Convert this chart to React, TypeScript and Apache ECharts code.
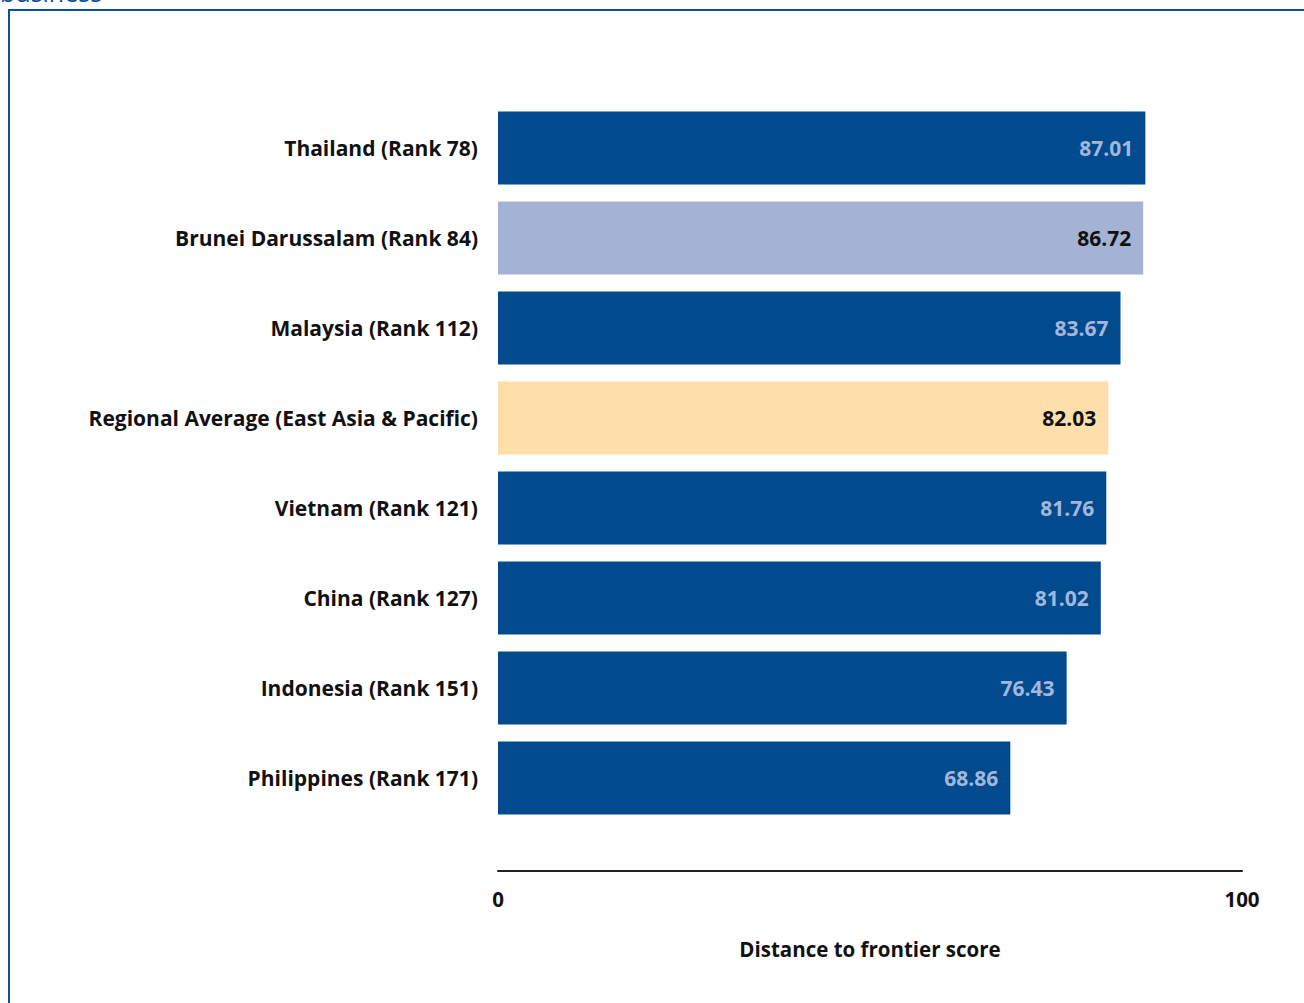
import React, { useEffect, useRef } from "react";
import * as echarts from "echarts";

const categories = [
  "Thailand (Rank 78)",
  "Brunei Darussalam (Rank 84)",
  "Malaysia (Rank 112)",
  "Regional Average (East Asia & Pacific)",
  "Vietnam (Rank 121)",
  "China (Rank 127)",
  "Indonesia (Rank 151)",
  "Philippines (Rank 171)",
];
const values = [87.01, 86.72, 83.67, 82.03, 81.76, 81.02, 76.43, 68.86];
const barColors = ["#004a8d", "#a4b2d4", "#004a8d", "#fedfa9", "#004a8d", "#004a8d", "#004a8d", "#004a8d"];
const labelColors = ["#a3b7dd", "#111111", "#a3b7dd", "#111111", "#a3b7dd", "#a3b7dd", "#a3b7dd", "#a3b7dd"];

export default function App() {
  const ref = useRef<HTMLDivElement>(null);
  useEffect(() => {
    document.body.style.margin = "0";
    const chart = echarts.init(ref.current!, null, { renderer: "svg" });
    const font = "'Open Sans', 'Noto Sans', sans-serif";
    chart.setOption({
      animation: false,
      backgroundColor: "#ffffff",
      graphic: [
        {
          type: "rect",
          shape: { x: 9, y: 10, width: 1400, height: 1100 },
          style: { fill: "none", stroke: "#0d4f9a", lineWidth: 2 },
        },
        {
          type: "text",
          x: 0,
          y: 4,
          style: {
            text: "business",
            fill: "#0d4f9a",
            font: "25px " + font,
            textVerticalAlign: "bottom",
          },
        },
      ],
      grid: { left: 498, right: 62, top: 103, bottom: 180, containLabel: false },
      xAxis: {
        type: "value",
        min: 0,
        max: 100,
        interval: 100,
        offset: 48,
        axisLine: { show: true, lineStyle: { color: "#222222", width: 2 } },
        axisTick: { show: false },
        splitLine: { show: false },
        axisLabel: { color: "#111", fontFamily: font, fontWeight: "bold", fontSize: 20.5, margin: 17 },
        name: "Distance to frontier score",
        nameLocation: "middle",
        nameGap: 67,
        nameTextStyle: { color: "#111", fontFamily: font, fontWeight: "bold", fontSize: 20.5 },
      },
      yAxis: {
        type: "category",
        inverse: true,
        data: categories,
        axisLine: { show: false },
        axisTick: { show: false },
        axisLabel: { color: "#111", fontFamily: font, fontWeight: "bold", fontSize: 21, margin: 20 },
      },
      series: [
        {
          type: "bar",
          barWidth: 73,
          data: values.map((v, i) => ({
            value: v,
            itemStyle: { color: barColors[i] },
            label: { color: labelColors[i] },
          })),
          label: {
            show: true,
            position: "insideRight",
            distance: 12,
            fontFamily: font,
            fontWeight: "bold",
            fontSize: 21,
            formatter: (p: any) => p.value.toFixed(2),
          },
        },
      ],
    });
    return () => chart.dispose();
  }, []);
  return <div ref={ref} style={{ width: 1304, height: 1003 }} />;
}
